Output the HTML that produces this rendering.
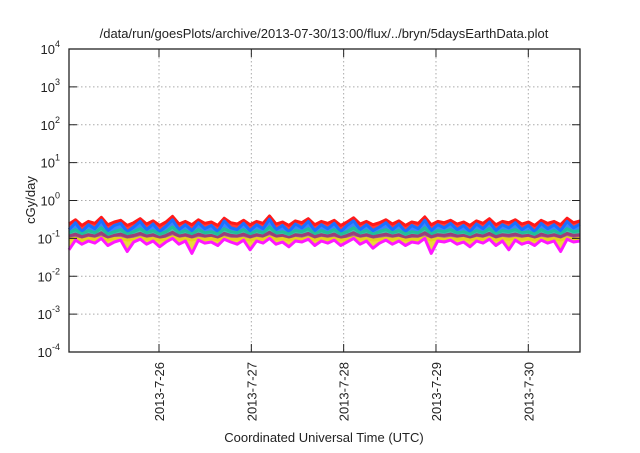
<!DOCTYPE html>
<html><head><meta charset="utf-8"><style>
body{margin:0;background:#fff;width:640px;height:448px;overflow:hidden}
svg text{font-family:"Liberation Sans",sans-serif;fill:#222}
</style></head><body>
<svg width="640" height="448">
<text x="324" y="38" font-size="13" text-anchor="middle">/data/run/goesPlots/archive/2013-07-30/13:00/flux/../bryn/5daysEarthData.plot</text>
<g id="grid"></g>
<g id="series"></g>
<rect x="69" y="49" width="511" height="303" fill="none" stroke="#222" stroke-width="1.3"/>
<g id="axes"></g>
<text transform="translate(35,200) rotate(-90)" font-size="13" text-anchor="middle">cGy/day</text>
<text x="324" y="442" font-size="13" text-anchor="middle">Coordinated Universal Time (UTC)</text>
</svg>
<script>
const yExponents=[4,3,2,1,0,-1,-2,-3,-4];
const xTickLabels=["2013-7-26","2013-7-27","2013-7-28","2013-7-29","2013-7-30"];
const xTickDays=[1,2,3,4,5];
const xStartDay=0.025, xEndDay=5.56;
const red=[0.24,0.31,0.22,0.28,0.25,0.36,0.23,0.27,0.30,0.22,0.26,0.33,0.24,0.29,0.22,0.27,0.38,0.24,0.28,0.23,0.31,0.25,0.27,0.22,0.34,0.26,0.24,0.30,0.23,0.28,0.25,0.39,0.24,0.27,0.22,0.29,0.26,0.33,0.23,0.28,0.25,0.30,0.22,0.27,0.35,0.24,0.28,0.23,0.26,0.31,0.24,0.29,0.22,0.27,0.25,0.37,0.23,0.28,0.26,0.30,0.24,0.27,0.22,0.29,0.25,0.33,0.23,0.28,0.26,0.31,0.24,0.27,0.22,0.30,0.25,0.28,0.23,0.34,0.26,0.29];
const blue=[0.17,0.26,0.15,0.23,0.18,0.30,0.16,0.22,0.25,0.15,0.20,0.28,0.17,0.24,0.15,0.21,0.31,0.17,0.23,0.16,0.26,0.18,0.22,0.15,0.29,0.19,0.17,0.25,0.16,0.23,0.18,0.32,0.17,0.22,0.15,0.24,0.19,0.28,0.16,0.23,0.18,0.25,0.15,0.22,0.29,0.17,0.23,0.16,0.20,0.26,0.17,0.24,0.15,0.22,0.18,0.30,0.16,0.23,0.19,0.25,0.17,0.22,0.15,0.24,0.18,0.27,0.16,0.23,0.19,0.26,0.17,0.22,0.15,0.25,0.18,0.23,0.16,0.28,0.19,0.24];
const teal=[0.14,0.17,0.13,0.16,0.14,0.19,0.13,0.15,0.17,0.13,0.15,0.18,0.14,0.16,0.13,0.15,0.20,0.14,0.16,0.13,0.17,0.14,0.15,0.13,0.18,0.15,0.14,0.17,0.13,0.16,0.14,0.20,0.14,0.15,0.13,0.16,0.15,0.18,0.13,0.16,0.14,0.17,0.13,0.15,0.19,0.14,0.16,0.13,0.15,0.17,0.14,0.16,0.13,0.15,0.14,0.19,0.13,0.16,0.15,0.17,0.14,0.15,0.13,0.16,0.14,0.18,0.13,0.16,0.15,0.17,0.14,0.15,0.13,0.17,0.14,0.16,0.13,0.18,0.15,0.16];
const purple=[0.115,0.13,0.11,0.125,0.115,0.14,0.105,0.12,0.13,0.11,0.12,0.135,0.115,0.125,0.105,0.12,0.145,0.115,0.125,0.11,0.13,0.115,0.12,0.105,0.135,0.12,0.115,0.13,0.11,0.125,0.115,0.145,0.115,0.12,0.105,0.125,0.12,0.135,0.11,0.125,0.115,0.13,0.105,0.12,0.14,0.115,0.125,0.11,0.12,0.13,0.115,0.125,0.105,0.12,0.115,0.14,0.11,0.125,0.12,0.13,0.115,0.12,0.105,0.125,0.115,0.135,0.11,0.125,0.12,0.13,0.115,0.12,0.105,0.13,0.115,0.125,0.11,0.135,0.12,0.125];
const yellow=[0.095,0.10,0.09,0.10,0.095,0.105,0.09,0.10,0.10,0.09,0.095,0.105,0.095,0.10,0.09,0.095,0.11,0.095,0.10,0.09,0.10,0.095,0.10,0.09,0.105,0.095,0.095,0.10,0.09,0.10,0.095,0.11,0.095,0.10,0.09,0.10,0.095,0.105,0.09,0.10,0.095,0.10,0.09,0.095,0.105,0.095,0.10,0.09,0.095,0.10,0.095,0.10,0.09,0.095,0.095,0.105,0.09,0.10,0.095,0.10,0.095,0.10,0.09,0.10,0.095,0.105,0.09,0.10,0.095,0.10,0.095,0.10,0.09,0.10,0.095,0.10,0.09,0.105,0.095,0.10];
const magenta=[0.05,0.09,0.07,0.085,0.075,0.10,0.065,0.08,0.09,0.045,0.08,0.095,0.07,0.085,0.06,0.08,0.10,0.07,0.085,0.04,0.09,0.075,0.08,0.065,0.095,0.08,0.07,0.09,0.05,0.085,0.075,0.10,0.07,0.08,0.06,0.085,0.08,0.095,0.065,0.085,0.075,0.09,0.065,0.08,0.10,0.07,0.085,0.055,0.075,0.09,0.07,0.085,0.065,0.08,0.075,0.10,0.04,0.085,0.08,0.09,0.07,0.08,0.06,0.085,0.075,0.095,0.065,0.085,0.05,0.09,0.07,0.08,0.065,0.09,0.075,0.085,0.045,0.095,0.08,0.085];
const seriesList=[["series-red","#ff1a1a",red,blue],["series-blue","#1a6fff",blue,teal],["series-teal","#1fbf9a",teal,purple],["series-purple","#9a3f7a",purple,yellow],["series-yellow","#e6d21a",yellow,magenta],["series-magenta","#ff18ff",magenta,null]];
const L=69,R=580,T=49,B=352;
const xs=d=>L+(d-xStartDay)/(xEndDay-xStartDay)*(R-L);
const ys=v=>B-(Math.log10(v)+4)/8*(B-T);
const NS="http://www.w3.org/2000/svg";
const grid=document.getElementById('grid'),axes=document.getElementById('axes'),sg=document.getElementById('series');
function mk(tag,attrs,parent){const e=document.createElementNS(NS,tag);for(const k in attrs)e.setAttribute(k,attrs[k]);parent.appendChild(e);return e;}
yExponents.forEach(p=>{const y=ys(Math.pow(10,p));
 if(p<4&&p>-4){const g=mk('line',{x1:L,x2:R,y1:y,y2:y,stroke:'#aaa','stroke-dasharray':'1.5,2.5','stroke-width':1},grid);
 
 }
 const t1=mk('line',{x1:L,x2:L+8,y1:y,y2:y,stroke:'#222'},axes);
 
 
 const t2=mk('line',{x1:R-8,x2:R,y1:y,y2:y,stroke:'#222'},axes);
 
 
 const tx=mk('text',{x:60,y:y+5,'font-size':13,'text-anchor':'end'},axes);
 
 
 tx.textContent='10';
 const sp=mk('tspan',{dy:-7,'font-size':9},tx);sp.textContent=String(p);
});
xTickDays.forEach((d,i)=>{const x=xs(d);
 const g=mk('line',{x1:x,x2:x,y1:T,y2:B,stroke:'#aaa','stroke-dasharray':'1.5,2.5','stroke-width':1},grid);
 
 
 const t1=mk('line',{x1:x,x2:x,y1:B-8,y2:B,stroke:'#222'},axes);
 
 
 const t2=mk('line',{x1:x,x2:x,y1:T,y2:T+8,stroke:'#222'},axes);
 
 
 const tx=mk('text',{transform:`translate(${x+5},${B+10}) rotate(-90)`,'font-size':13,'text-anchor':'end'},axes);
 
 
 tx.textContent=xTickLabels[i];
});
const px=(arr,i)=>xs(xStartDay+i/(arr.length-1)*(xEndDay-xStartDay));
seriesList.forEach(([name,col,arr,below])=>{
 const top=arr.map((v,i)=>px(arr,i).toFixed(1)+','+ys(v).toFixed(1));
 if(below){
  const bot=below.map((v,i)=>px(below,i).toFixed(1)+','+ys(v).toFixed(1)).reverse();
  const a=mk('polygon',{points:top.concat(bot).join(' '),fill:col,'fill-opacity':0.85},sg);
  
  
 }
 const p=mk('polyline',{points:top.join(' '),fill:'none',stroke:col,'stroke-width':3,'stroke-linejoin':'round'},sg);
 
 
});
</script>
</body></html>
